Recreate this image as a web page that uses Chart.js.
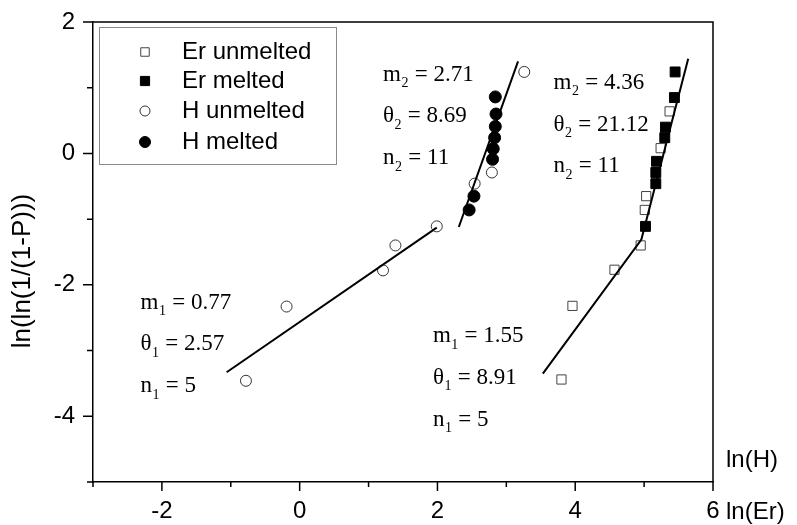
<!DOCTYPE html>
<html>
<head>
<meta charset="utf-8">
<script src="https://cdn.jsdelivr.net/npm/chart.js@4.4.1/dist/chart.umd.min.js"></script>
<style>
  html, body { margin: 0; padding: 0; background: #fff; }
</style>
</head>
<body>
<canvas id="weibull" width="797" height="525"></canvas>
<script>
// Weibull plot: ln(ln(1/(1-P))) against ln(H) and ln(Er)
const hUnmeltedX = [-0.78, -0.19, 1.21, 1.39, 1.99, 2.54, 2.79, 3.26];
const hUnmeltedY = [-3.46, -2.33, -1.78, -1.40, -1.11, -0.46, -0.29, 1.24];
const hMeltedX = [2.46, 2.53, 2.80, 2.81, 2.83, 2.84, 2.85, 2.84];
const hMeltedY = [-0.86, -0.65, -0.09, 0.07, 0.24, 0.41, 0.60, 0.86];

const erUnmeltedX = [3.80, 3.96, 4.57, 4.95, 5.01, 5.03, 5.24, 5.37];
const erUnmeltedY = [-3.44, -2.32, -1.77, -1.40, -0.86, -0.65, 0.08, 0.64];
const erMeltedX = [5.02, 5.17, 5.17, 5.18, 5.30, 5.31, 5.44, 5.45];
const erMeltedY = [-1.11, -0.46, -0.29, -0.12, 0.24, 0.40, 0.85, 1.24];

// fitted lines (two stages each)
const hFit1X = [-1.06, 1.99];
const hFit1Y = [-3.33, -1.13];
const hFit2X = [2.31, 3.17];
const hFit2Y = [-1.12, 1.40];
const erFitX = [3.53, 4.96, 5.64];
const erFitY = [-3.35, -1.31, 1.44];

// fit parameters printed next to each line
const fitStage = ['1', '2', '1', '2'];
const fitM = ['0.77', '2.71', '1.55', '4.36'];
const fitTheta = ['2.57', '8.69', '8.91', '21.12'];
const fitN = ['5', '11', '5', '11'];
// left edge / first-line centre of each block, in axis units
const blockX = [-2.31, 1.21, 1.935, 3.685];
const blockY = [-2.27, 1.20, -2.78, 1.075];

const xTicks = [-3, -2, -1, 0, 1, 2, 3, 4, 5, 6];
const yTicks = [-5, -4, -3, -2, -1, 0, 1, 2];

const seriesNames = ['Er unmelted', 'Er melted', 'H unmelted', 'H melted'];

const pts = (xs, ys) => xs.map((v, i) => ({ x: v, y: ys[i] }));

const SANS = '"Liberation Sans", Arial, sans-serif';
const SERIF = '"Liberation Serif", "Times New Roman", serif';

const markerSets = [
  { label: seriesNames[0], data: pts(erUnmeltedX, erUnmeltedY), pointStyle: 'rect', pointRadius: 6.5,
    backgroundColor: '#fff', borderColor: '#444', borderWidth: 1 },
  { label: seriesNames[1], data: pts(erMeltedX, erMeltedY), pointStyle: 'rect', pointRadius: 7,
    backgroundColor: '#000', borderColor: '#000', borderWidth: 1 },
  { label: seriesNames[2], data: pts(hUnmeltedX, hUnmeltedY), pointStyle: 'circle', pointRadius: 5.5,
    backgroundColor: '#fff', borderColor: '#333', borderWidth: 1 },
  { label: seriesNames[3], data: pts(hMeltedX, hMeltedY), pointStyle: 'circle', pointRadius: 6,
    backgroundColor: '#000', borderColor: '#000', borderWidth: 1 },
];

const fitLine = (xs, ys) => ({
  data: pts(xs, ys), showLine: true, pointRadius: 0, borderColor: '#000',
  borderWidth: 2, fill: false, tension: 0,
});

// frame, outward ticks, axis names, legend box and fit labels
const decorations = {
  id: 'decorations',
  afterDraw(chart) {
    const { ctx, chartArea: a, scales: { x, y } } = chart;
    ctx.save();
    ctx.strokeStyle = '#000';
    ctx.lineWidth = 1.5;
    ctx.beginPath();
    ctx.moveTo(a.left, a.top);
    ctx.lineTo(a.right, a.top);
    ctx.lineTo(a.right, a.bottom);
    ctx.stroke();

    ctx.beginPath();
    xTicks.forEach(v => {
      const px = x.getPixelForValue(v);
      ctx.moveTo(px, a.bottom);
      ctx.lineTo(px, a.bottom + (v % 2 === 0 ? 9 : 5));
    });
    yTicks.forEach(v => {
      const py = y.getPixelForValue(v);
      ctx.moveTo(a.left, py);
      ctx.lineTo(a.left - (v % 2 === 0 ? 10 : 6), py);
    });
    ctx.stroke();

    ctx.fillStyle = '#000';
    ctx.font = '24px ' + SANS;
    ctx.textBaseline = 'middle';
    ctx.textAlign = 'left';
    ctx.fillText('ln(H)', a.right + 13, a.bottom - 22);
    ctx.fillText('ln(Er)', a.right + 13, a.bottom + 30);

    ctx.save();
    ctx.font = '26px ' + SANS;
    ctx.translate(22.5, 271);
    ctx.rotate(-Math.PI / 2);
    ctx.textAlign = 'center';
    ctx.fillText('ln(ln(1/(1-P)))', 0, 0);
    ctx.restore();

    // legend
    const lx = a.left + 6, ly = a.top + 5;
    ctx.strokeStyle = '#8a8a8a';
    ctx.lineWidth = 1;
    ctx.strokeRect(lx + 0.5, ly + 0.5, 237, 137);
    const rowY = [25, 54, 84, 115];
    markerSets.forEach((ds, i) => {
      const cy = ly + rowY[i];
      ctx.fillStyle = ds.backgroundColor;
      ctx.strokeStyle = ds.borderColor;
      ctx.lineWidth = ds.borderWidth;
      Chart.helpers.drawPoint(ctx, {
        pointStyle: ds.pointStyle, radius: ds.pointRadius - 0.5, rotation: 0, borderWidth: ds.borderWidth,
      }, lx + 46, cy);
      ctx.fillStyle = '#000';
      ctx.textAlign = 'left';
      ctx.fillText(ds.label, lx + 83, cy);
    });

    // fit parameter blocks
    const row = (px, py, sym, sub, rest) => {
      ctx.font = '23px ' + SERIF;
      ctx.fillText(sym, px, py);
      const w = ctx.measureText(sym).width;
      ctx.font = '14px ' + SERIF;
      ctx.fillText(sub, px + w + 0.5, py + 9);
      const ws = ctx.measureText(sub).width;
      ctx.font = '23px ' + SERIF;
      ctx.fillText(rest, px + w + ws + 1, py);
    };
    ctx.fillStyle = '#000';
    ctx.textBaseline = 'middle';
    fitM.forEach((m, i) => {
      const px = x.getPixelForValue(blockX[i]);
      const py = y.getPixelForValue(blockY[i]);
      row(px, py, 'm', fitStage[i], ' = ' + m);
      row(px, py + 41.7, '\u03b8', fitStage[i], ' = ' + fitTheta[i]);
      row(px, py + 83.4, 'n', fitStage[i], ' = ' + fitN[i]);
    });
    ctx.restore();
  }
};

new Chart(document.getElementById('weibull'), {
  type: 'scatter',
  data: {
    datasets: [
      fitLine(hFit1X, hFit1Y),
      fitLine(hFit2X, hFit2Y),
      fitLine(erFitX, erFitY),
      ...markerSets,
    ]
  },
  options: {
    responsive: false,
    animation: false,
    devicePixelRatio: 1,
    layout: { padding: { top: 22, right: 84, bottom: 0, left: 0 } },
    plugins: { legend: { display: false }, tooltip: { enabled: false } },
    scales: {
      x: {
        type: 'linear', min: -3, max: 6,
        afterFit: s => { s.height = 43; s.paddingLeft = 0; s.paddingRight = 0; },
        afterBuildTicks: s => { s.ticks = xTicks.map(v => ({ value: v })); },
        grid: { drawOnChartArea: false, drawTicks: false },
        border: { display: true, color: '#000', width: 1.5 },
        ticks: {
          padding: 15, color: '#000', font: { family: SANS, size: 24 },
          maxRotation: 0, autoSkip: false,
          callback: v => (v % 2 === 0 ? String(v) : ''),
        },
      },
      y: {
        type: 'linear', min: -5, max: 2,
        afterFit: s => { s.width = 93; s.paddingTop = 0; s.paddingBottom = 0; },
        afterBuildTicks: s => { s.ticks = yTicks.map(v => ({ value: v })); },
        grid: { drawOnChartArea: false, drawTicks: false },
        border: { display: true, color: '#000', width: 1.5 },
        ticks: {
          padding: 18, color: '#000', font: { family: SANS, size: 24 },
          autoSkip: false,
          callback: v => (v % 2 === 0 ? String(v) : ''),
        },
      },
    },
  },
  plugins: [decorations],
});
</script>
</body>
</html>
